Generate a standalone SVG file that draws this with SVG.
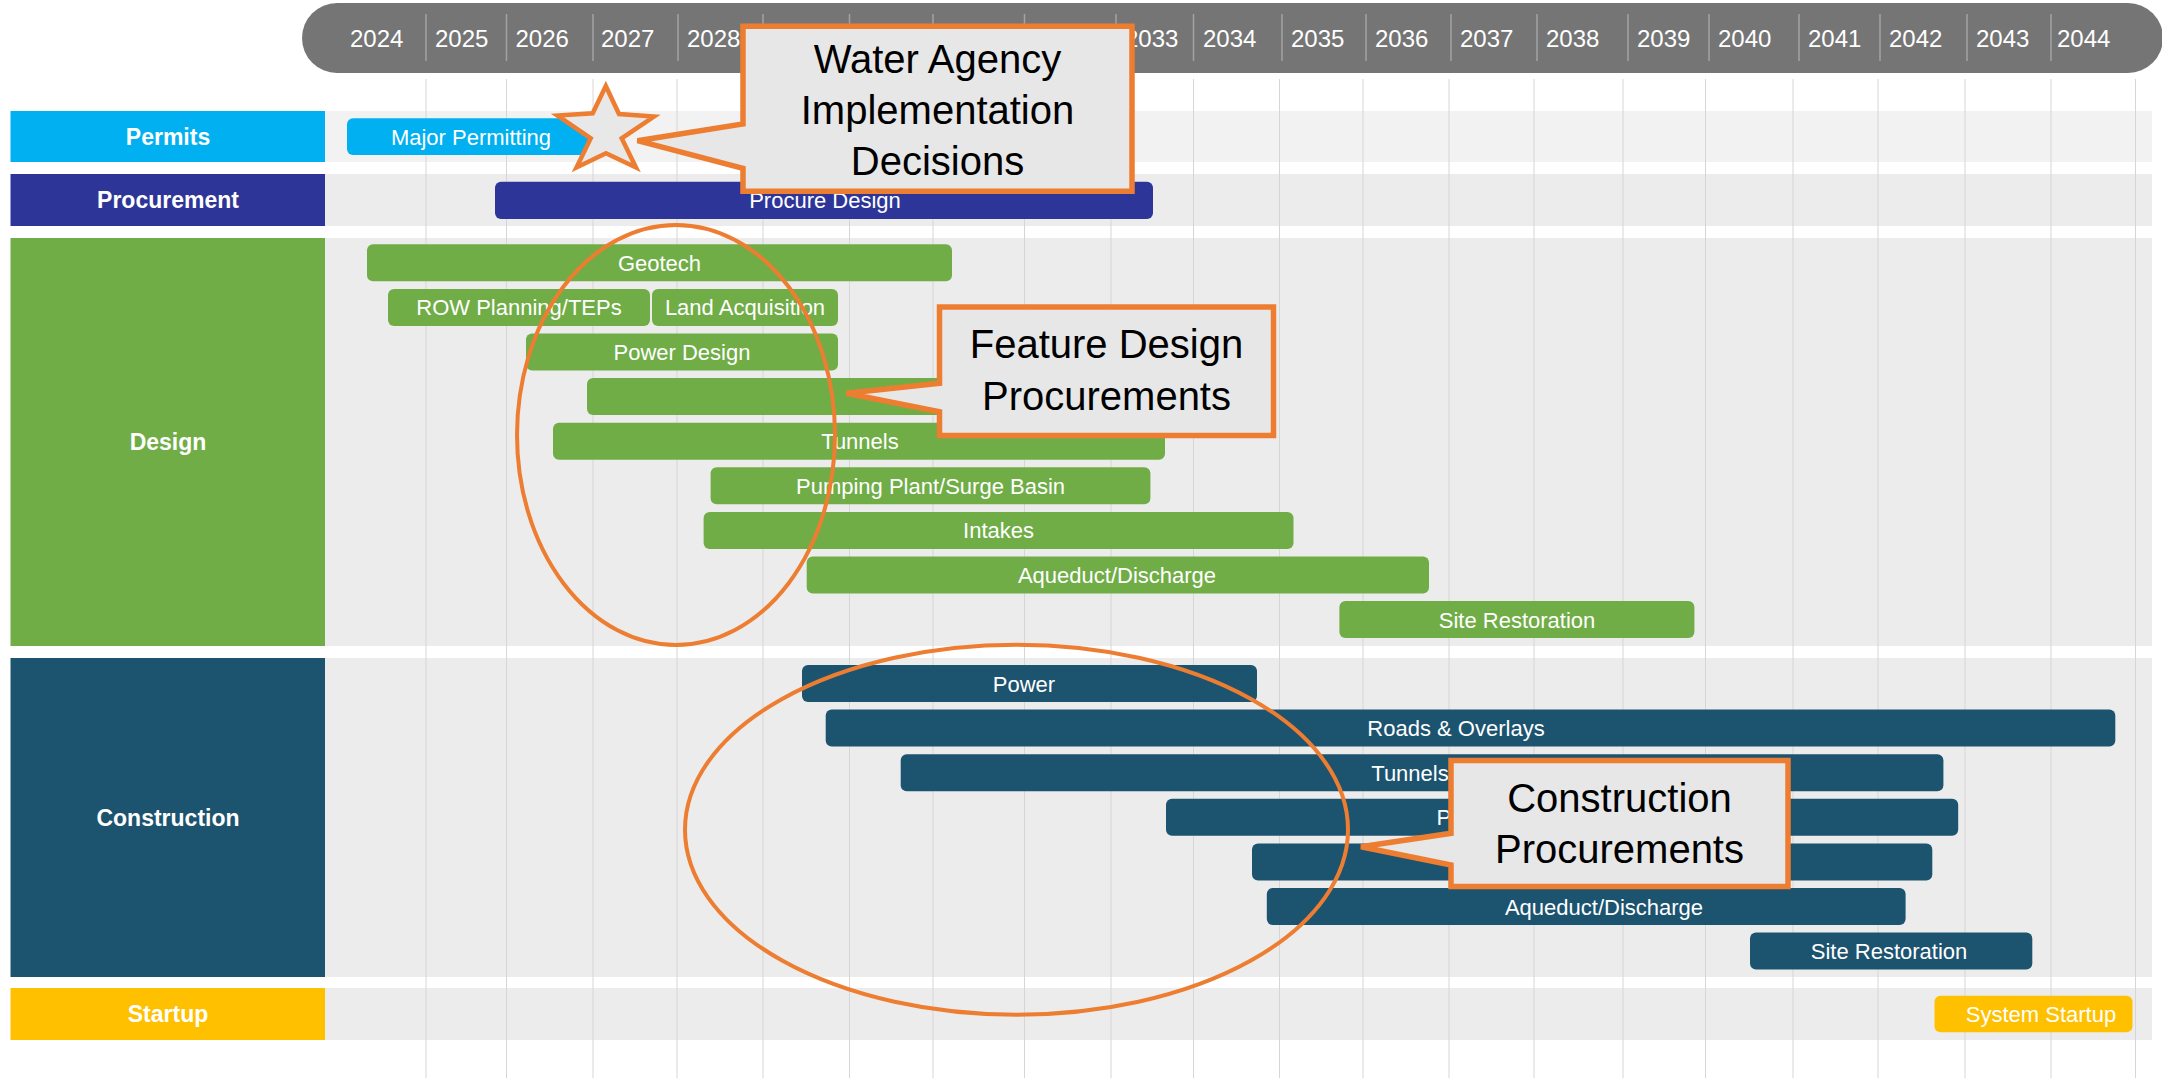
<svg xmlns="http://www.w3.org/2000/svg" width="2162" height="1085" viewBox="0 0 2162 1085">
  <style>
    .band { fill: #ececec; }
    .band-lt { fill: #f2f2f2; }
    .grid { stroke: #d6d6d6; stroke-width: 1; }
    .hsep { stroke: #a3a3a3; stroke-width: 1.5; }
    .year { font-family: "Liberation Sans", Arial, sans-serif; font-size: 24px; fill: #ffffff; }
    .lab { font-family: "Liberation Sans", Arial, sans-serif; font-size: 23px; font-weight: bold; fill: #ffffff; text-anchor: middle; }
    .bt { font-family: "Liberation Sans", Arial, sans-serif; font-size: 22px; fill: #ffffff; text-anchor: middle; }
    .permit { fill: #00b0f0; }
    .proc { fill: #2e3598; }
    .design { fill: #70ad47; }
    .build { fill: #1c536f; }
    .start { fill: #ffc000; }
    .callout { fill: #e7e7e7; stroke: #ed7d31; stroke-width: 5.5; stroke-linejoin: miter; }
    .ct { font-family: "Liberation Sans", Arial, sans-serif; font-size: 40px; fill: #000000; text-anchor: middle; }
    .ring { fill: none; stroke: #ed7d31; stroke-width: 4; }
  </style>
  <defs>
    <!-- bar labels that run under the construction callout stop at its edge -->
    <clipPath id="left-of-callout">
      <rect x="325" y="740" width="1124" height="110"/>
    </clipPath>
  </defs>

  <!-- timeline header -->
  <g id="header">
    <rect x="302" y="3" width="1861" height="70" rx="35" ry="35" fill="#757575"/>
    <g class="hsep">
      <line x1="426" y1="14" x2="426" y2="61"/>
      <line x1="506.5" y1="14" x2="506.5" y2="61"/>
      <line x1="593" y1="14" x2="593" y2="61"/>
      <line x1="678" y1="14" x2="678" y2="61"/>
      <line x1="763" y1="14" x2="763" y2="61"/>
      <line x1="849.5" y1="14" x2="849.5" y2="61"/>
      <line x1="933" y1="14" x2="933" y2="61"/>
      <line x1="1024.5" y1="14" x2="1024.5" y2="61"/>
      <line x1="1116" y1="14" x2="1116" y2="61"/>
      <line x1="1193.5" y1="14" x2="1193.5" y2="61"/>
      <line x1="1282" y1="14" x2="1282" y2="61"/>
      <line x1="1366" y1="14" x2="1366" y2="61"/>
      <line x1="1451" y1="14" x2="1451" y2="61"/>
      <line x1="1537" y1="14" x2="1537" y2="61"/>
      <line x1="1628" y1="14" x2="1628" y2="61"/>
      <line x1="1709" y1="14" x2="1709" y2="61"/>
      <line x1="1799" y1="14" x2="1799" y2="61"/>
      <line x1="1880" y1="14" x2="1880" y2="61"/>
      <line x1="1967" y1="14" x2="1967" y2="61"/>
      <line x1="2051" y1="14" x2="2051" y2="61"/>
    </g>
    <g class="year">
      <text x="350" y="47">2024</text>
      <text x="435" y="47">2025</text>
      <text x="515.5" y="47">2026</text>
      <text x="601" y="47">2027</text>
      <text x="687" y="47">2028</text>
      <text x="1125" y="47">2033</text>
      <text x="1203" y="47">2034</text>
      <text x="1291" y="47">2035</text>
      <text x="1375" y="47">2036</text>
      <text x="1460" y="47">2037</text>
      <text x="1546" y="47">2038</text>
      <text x="1637" y="47">2039</text>
      <text x="1718" y="47">2040</text>
      <text x="1808" y="47">2041</text>
      <text x="1889" y="47">2042</text>
      <text x="1976" y="47">2043</text>
      <text x="2057" y="47">2044</text>
    </g>
  </g>

  <!-- swimlane backgrounds -->
  <g id="lanes">
    <rect class="band-lt" x="325" y="111" width="1827" height="51"/>
    <rect class="band" x="325" y="174" width="1827" height="52"/>
    <rect class="band" x="325" y="238" width="1827" height="408"/>
    <rect class="band" x="325" y="658" width="1827" height="319"/>
    <rect class="band" x="325" y="988" width="1827" height="52"/>
  </g>

  <!-- year gridlines -->
  <g id="gridlines" class="grid">
    <line x1="426" y1="79" x2="426" y2="1078"/>
    <line x1="506.5" y1="79" x2="506.5" y2="1078"/>
    <line x1="593" y1="79" x2="593" y2="1078"/>
    <line x1="677" y1="79" x2="677" y2="1078"/>
    <line x1="763" y1="79" x2="763" y2="1078"/>
    <line x1="849.5" y1="79" x2="849.5" y2="1078"/>
    <line x1="933" y1="79" x2="933" y2="1078"/>
    <line x1="1024.5" y1="79" x2="1024.5" y2="1078"/>
    <line x1="1111" y1="79" x2="1111" y2="1078"/>
    <line x1="1193.5" y1="79" x2="1193.5" y2="1078"/>
    <line x1="1279.5" y1="79" x2="1279.5" y2="1078"/>
    <line x1="1363" y1="79" x2="1363" y2="1078"/>
    <line x1="1449" y1="79" x2="1449" y2="1078"/>
    <line x1="1534" y1="79" x2="1534" y2="1078"/>
    <line x1="1623" y1="79" x2="1623" y2="1078"/>
    <line x1="1705.5" y1="79" x2="1705.5" y2="1078"/>
    <line x1="1793" y1="79" x2="1793" y2="1078"/>
    <line x1="1878" y1="79" x2="1878" y2="1078"/>
    <line x1="1965" y1="79" x2="1965" y2="1078"/>
    <line x1="2051" y1="79" x2="2051" y2="1078"/>
    <line x1="2135.5" y1="79" x2="2135.5" y2="1078"/>
  </g>

  <!-- phase labels -->
  <g id="phase-permits">
    <rect class="permit" x="10.5" y="111" width="314.5" height="51"/>
    <text class="lab" x="168" y="144.5">Permits</text>
  </g>
  <g id="phase-procurement">
    <rect class="proc" x="10.5" y="174" width="314.5" height="52"/>
    <text class="lab" x="168" y="208">Procurement</text>
  </g>
  <g id="phase-design">
    <rect class="design" x="10.5" y="238" width="314.5" height="408"/>
    <text class="lab" x="168" y="450">Design</text>
  </g>
  <g id="phase-construction">
    <rect class="build" x="10.5" y="658" width="314.5" height="319"/>
    <text class="lab" x="168" y="825.5">Construction</text>
  </g>
  <g id="phase-startup">
    <rect class="start" x="10.5" y="988" width="314.5" height="52"/>
    <text class="lab" x="168" y="1022">Startup</text>
  </g>

  <!-- activity bars -->
  <g id="task-major-permitting">
    <rect class="permit" x="347" y="118.3" width="248" height="36.7" rx="6"/>
    <text class="bt" x="471" y="144.7">Major Permitting</text>
  </g>
  <g id="task-procure-design">
    <rect class="proc" x="495" y="181.7" width="658" height="37.3" rx="6"/>
    <text class="bt" x="825" y="208.3">Procure Design</text>
  </g>

  <g id="design-geotech">
    <rect class="design" x="367" y="244.3" width="585" height="37" rx="6"/>
    <text class="bt" x="659.5" y="270.8">Geotech</text>
  </g>
  <g id="design-row">
    <rect class="design" x="388" y="288.9" width="262" height="37" rx="6"/>
    <text class="bt" x="519" y="315.4">ROW Planning/TEPs</text>
  </g>
  <g id="design-land">
    <rect class="design" x="652" y="288.9" width="186" height="37" rx="6"/>
    <text class="bt" x="745" y="315.4">Land Acquisition</text>
  </g>
  <g id="design-power">
    <rect class="design" x="526" y="333.5" width="312" height="37" rx="6"/>
    <text class="bt" x="682" y="360">Power Design</text>
  </g>
  <g id="design-row4">
    <rect class="design" x="587" y="378.1" width="613" height="37" rx="6"/>
  </g>
  <g id="design-tunnels">
    <rect class="design" x="553" y="422.7" width="612" height="37" rx="6"/>
    <text class="bt" x="860" y="449.2">Tunnels</text>
  </g>
  <g id="design-pumping">
    <rect class="design" x="710.6" y="467.3" width="439.8" height="37" rx="6"/>
    <text class="bt" x="930.5" y="493.8">Pumping Plant/Surge Basin</text>
  </g>
  <g id="design-intakes">
    <rect class="design" x="703.6" y="511.9" width="589.9" height="37" rx="6"/>
    <text class="bt" x="998.5" y="538.4">Intakes</text>
  </g>
  <g id="design-aqueduct">
    <rect class="design" x="806.7" y="556.5" width="622.3" height="37" rx="6"/>
    <text class="bt" x="1117" y="583">Aqueduct/Discharge</text>
  </g>
  <g id="design-site">
    <rect class="design" x="1339.4" y="601.1" width="355" height="37" rx="6"/>
    <text class="bt" x="1517" y="627.6">Site Restoration</text>
  </g>

  <g id="build-power">
    <rect class="build" x="802" y="665" width="455" height="37" rx="6"/>
    <text class="bt" x="1024" y="691.5">Power</text>
  </g>
  <g id="build-roads">
    <rect class="build" x="825.7" y="709.6" width="1289.6" height="37" rx="6"/>
    <text class="bt" x="1456" y="736.1">Roads &amp; Overlays</text>
  </g>
  <g id="build-tunnels">
    <rect class="build" x="900.7" y="754.2" width="1042.7" height="37" rx="6"/>
    <text class="bt" x="1410" y="780.7" clip-path="url(#left-of-callout)">Tunnels</text>
  </g>
  <g id="build-pumping">
    <rect class="build" x="1166" y="798.8" width="792.2" height="37" rx="6"/>
    <text class="bt" x="1571" y="825.3" clip-path="url(#left-of-callout)">Pumping Plant/Surge Basin</text>
  </g>
  <g id="build-row5">
    <rect class="build" x="1252" y="843.4" width="680.3" height="37" rx="6"/>
  </g>
  <g id="build-aqueduct">
    <rect class="build" x="1266.8" y="888" width="638.8" height="37" rx="6"/>
    <text class="bt" x="1604" y="914.5">Aqueduct/Discharge</text>
  </g>
  <g id="build-site">
    <rect class="build" x="1750" y="932.6" width="282.3" height="37" rx="6"/>
    <text class="bt" x="1889" y="959.1">Site Restoration</text>
  </g>

  <g id="startup-system">
    <rect class="start" x="1934.5" y="995.7" width="198" height="36.6" rx="6"/>
    <text class="bt" x="2041" y="1022">System Startup</text>
  </g>

  <!-- highlight rings -->
  <g id="ring-design">
    <ellipse class="ring" cx="676" cy="435" rx="159" ry="210"/>
  </g>
  <g id="ring-construction">
    <ellipse class="ring" cx="1016.5" cy="829.7" rx="331.5" ry="185"/>
  </g>

  <!-- milestone star -->
  <g id="milestone-star">
    <polygon fill="#e8e8e8" stroke="#ed7d31" stroke-width="4.5" stroke-miterlimit="10"
      points="605.8,86 619,114 654,116.5 621.7,138.3 636,167.5 606,153.3 576.5,167.5 590.7,138.3 557.5,115.5 592.7,113.3"/>
  </g>

  <!-- callouts -->
  <g id="callout-decisions">
    <path class="callout" d="M743,26.3 H1132 V191.3 H743 V168.3 L637.5,140.7 L743,124 Z"/>
    <text class="ct" x="937.5" y="72.5">Water Agency</text>
    <text class="ct" x="937.5" y="124">Implementation</text>
    <text class="ct" x="937.5" y="175">Decisions</text>
  </g>
  <g id="callout-feature-design">
    <path class="callout" d="M939.5,307 H1273.5 V435.5 H939.5 V411.7 L846.5,393.3 L939.5,383.3 Z"/>
    <text class="ct" x="1106.5" y="358">Feature Design</text>
    <text class="ct" x="1106.5" y="410">Procurements</text>
  </g>
  <g id="callout-construction">
    <path class="callout" d="M1451,760.5 H1788 V886.5 H1451 V865 L1361,846.7 L1451,833.3 Z"/>
    <text class="ct" x="1619.5" y="811.7">Construction</text>
    <text class="ct" x="1619.5" y="862.7">Procurements</text>
  </g>
</svg>
